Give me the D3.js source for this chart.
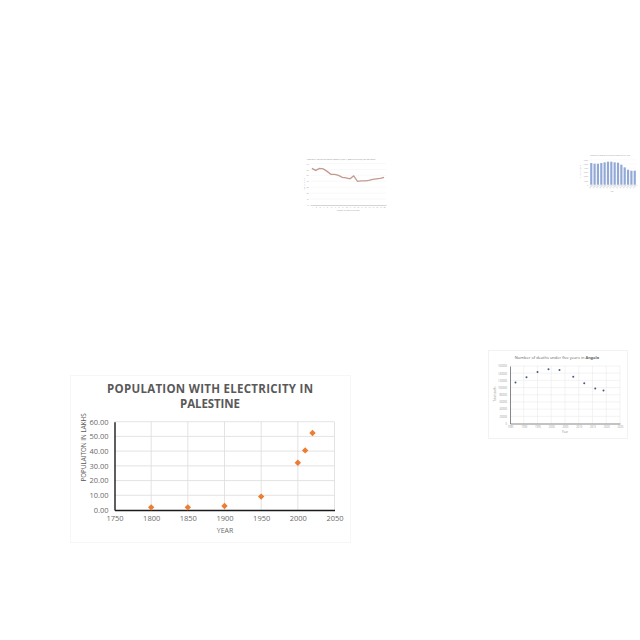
<!DOCTYPE html>
<html>
<head>
<meta charset="utf-8">
<script src="https://cdn.jsdelivr.net/npm/d3@7"></script>
<style>
  html, body { margin: 0; padding: 0; background: #fff; }
  svg { display: block; }
  text { font-family: "Open Sans", "Liberation Sans", sans-serif; }
</style>
</head>
<body>
<div id="chart"></div>
<script>
// main chart: population with electricity in Palestine
const years = [1800, 1850, 1900, 1950, 2000, 2010, 2020];
const population = [1.8, 1.8, 2.7, 9.1, 32.1, 40.5, 52.3];
const yearTicks = [1750, 1800, 1850, 1900, 1950, 2000, 2050];
const popTicks = [0, 10, 20, 30, 40, 50, 60];

// Angola under-five deaths
const angolaYears = [1987, 1991, 1995, 1999, 2003, 2008, 2012, 2016, 2019];
const angolaDeaths = [113800, 128600, 143400, 150800, 148900, 130400, 111900, 97100, 91600];
const angolaYearTicks = [1985, 1990, 1995, 2000, 2005, 2010, 2015, 2020, 2025];
const angolaDeathTicks = [0, 20000, 40000, 60000, 80000, 100000, 120000, 140000, 160000];

// small line chart
const rateIdx = d3.range(1, 21);
const rateValues = [61.7, 58.3, 61.7, 60.8, 56.7, 51.7, 51.7, 50, 46.7, 45.8, 44.2, 49, 40, 40.8, 40.8, 41.7, 43.3, 44.2, 45, 46.7];
const rateTicks = [0, 10, 20, 30, 40, 50, 60, 70];

// small bar chart
const barLabels = d3.range(2005, 2019).map(String);
const barValues = [5200, 5040, 5040, 5200, 5360, 5520, 5520, 5360, 5280, 4800, 4160, 3600, 3360, 3360];
const barTicks = [0, 1000, 2000, 3000, 4000, 5000, 6000];

const svg = d3.select("#chart").append("svg")
  .attr("width", 640)
  .attr("height", 640);

const grey = "#595959";

// ---------- main chart ----------
{
  const g = svg.append("g");
  g.append("rect")
    .attr("x", 70.5).attr("y", 375.5).attr("width", 280).attr("height", 167)
    .attr("fill", "#fff").attr("stroke", "#f6f6f6");

  const x = d3.scaleLinear().domain([1750, 2050]).range([114.5, 334.5]);
  const y = d3.scaleLinear().domain([0, 60]).range([510, 421.7]);

  // grid
  g.append("g").selectAll("line").data(yearTicks.slice(1)).join("line")
    .attr("x1", d => x(d)).attr("x2", d => x(d))
    .attr("y1", y(60)).attr("y2", y(0))
    .attr("stroke", "#dcdcdc").attr("stroke-width", 0.8);
  g.append("g").selectAll("line").data(popTicks.slice(1)).join("line")
    .attr("x1", x(1750)).attr("x2", x(2050))
    .attr("y1", d => y(d)).attr("y2", d => y(d))
    .attr("stroke", "#dcdcdc").attr("stroke-width", 0.8);

  const xAxis = g.append("g").attr("transform", `translate(0,${y(0)})`)
    .call(d3.axisBottom(x).tickValues(yearTicks).tickFormat(d3.format("d")).tickSize(0).tickPadding(6));
  xAxis.select(".domain").attr("stroke", "#1a1a1a").attr("stroke-width", 1.4);
  xAxis.selectAll("text").attr("fill", "#6a6a6a").attr("font-size", 7.5);

  const yAxis = g.append("g").attr("transform", `translate(${x(1750)},0)`)
    .call(d3.axisLeft(y).tickValues(popTicks).tickFormat(d3.format(".2f")).tickSize(0).tickPadding(6));
  yAxis.select(".domain").attr("stroke", "#1a1a1a").attr("stroke-width", 1.4);
  yAxis.selectAll("text").attr("fill", "#6a6a6a").attr("font-size", 7.5);

  g.append("g").selectAll("path").data(years).join("path")
    .attr("transform", (d, i) => `translate(${x(d)},${y(population[i])})`)
    .attr("d", d3.symbol(d3.symbolDiamond2, 26))
    .attr("fill", "#ED7D31");

  g.append("text").attr("x", 210).attr("y", 393)
    .attr("text-anchor", "middle").attr("font-weight", "bold").attr("font-size", 11.5)
    .attr("fill", grey).attr("textLength", 206).attr("lengthAdjust", "spacing")
    .text("POPULATION WITH ELECTRICITY IN");
  g.append("text").attr("x", 210).attr("y", 408)
    .attr("text-anchor", "middle").attr("font-weight", "bold").attr("font-size", 11.5)
    .attr("fill", grey).attr("textLength", 60).attr("lengthAdjust", "spacing")
    .text("PALESTINE");

  g.append("text").attr("transform", "translate(85.5,447.5) rotate(-90)")
    .attr("text-anchor", "middle").attr("font-size", 6.3).attr("fill", grey)
    .text("POPULAITON IN LAKHS");
  g.append("text").attr("x", 225).attr("y", 533)
    .attr("text-anchor", "middle").attr("font-size", 7).attr("fill", "#6a6a6a")
    .text("YEAR");
}

// ---------- Angola chart ----------
{
  const g = svg.append("g");
  g.append("rect")
    .attr("x", 488.5).attr("y", 350.5).attr("width", 139).attr("height", 88)
    .attr("fill", "#fff").attr("stroke", "#f2f2f2");

  const x = d3.scaleLinear().domain([1985, 2025]).range([510, 620]);
  const y = d3.scaleLinear().domain([0, 160000]).range([423.5, 366]);

  g.append("g").selectAll("line").data(angolaYearTicks.slice(1)).join("line")
    .attr("x1", d => x(d)).attr("x2", d => x(d))
    .attr("y1", y(160000)).attr("y2", y(0))
    .attr("stroke", "#e6e6e6").attr("stroke-width", 0.5);
  g.append("g").selectAll("line").data(angolaDeathTicks.slice(1)).join("line")
    .attr("x1", x(1985)).attr("x2", x(2025))
    .attr("y1", d => y(d)).attr("y2", d => y(d))
    .attr("stroke", "#e6e6e6").attr("stroke-width", 0.5);

  const xa = g.append("g").attr("transform", `translate(0,${y(0)})`)
    .call(d3.axisBottom(x).tickValues(angolaYearTicks).tickFormat(d3.format("d")).tickSize(0).tickPadding(3));
  xa.select(".domain").attr("stroke", "#555").attr("stroke-width", 0.7);
  xa.selectAll("text").attr("fill", "#999").attr("font-size", 2.6);

  const ya = g.append("g").attr("transform", `translate(${x(1985)},0)`)
    .call(d3.axisLeft(y).tickValues(angolaDeathTicks).tickFormat(d3.format("d")).tickSize(0).tickPadding(3));
  ya.select(".domain").attr("stroke", "#555").attr("stroke-width", 0.7);
  ya.selectAll("text").attr("fill", "#999").attr("font-size", 2.6);

  g.append("g").selectAll("circle").data(angolaYears).join("circle")
    .attr("cx", d => x(d)).attr("cy", (d, i) => y(angolaDeaths[i]))
    .attr("r", 1).attr("fill", "#4a5a7a");

  const t = g.append("text").attr("x", 557).attr("y", 359)
    .attr("text-anchor", "middle").attr("font-size", 4).attr("fill", "#666");
  t.append("tspan").text("Number of deaths under five years in ");
  t.append("tspan").attr("font-weight", "bold").text("Angola");

  g.append("text").attr("transform", "translate(496,394) rotate(-90)")
    .attr("text-anchor", "middle").attr("font-size", 2.6).attr("fill", "#888")
    .text("Total deaths");
  g.append("text").attr("x", 565).attr("y", 433)
    .attr("text-anchor", "middle").attr("font-size", 2.8).attr("fill", "#888")
    .text("Year");
}

// ---------- small line chart ----------
{
  const g = svg.append("g");
  const x = d3.scaleLinear().domain([0.5, 20.5]).range([310, 386]);
  const y = d3.scaleLinear().domain([0, 70]).range([205, 163.5]);

  g.append("g").selectAll("line").data(rateTicks.slice(1)).join("line")
    .attr("x1", x(0.5)).attr("x2", x(20.5))
    .attr("y1", d => y(d)).attr("y2", d => y(d))
    .attr("stroke", "#f0f0f0").attr("stroke-width", 0.4);

  const xa = g.append("g").attr("transform", `translate(0,${y(0)})`)
    .call(d3.axisBottom(x).tickValues(rateIdx).tickSize(0).tickPadding(1.5));
  xa.select(".domain").attr("stroke", "#aaa").attr("stroke-width", 0.5);
  xa.selectAll("text").attr("fill", "#999").attr("font-size", 1.8);

  const ya = g.append("g").attr("transform", `translate(${x(0.5)},0)`)
    .call(d3.axisLeft(y).tickValues(rateTicks).tickSize(0).tickPadding(1.5));
  ya.select(".domain").attr("stroke", "none");
  ya.selectAll("text").attr("fill", "#999").attr("font-size", 1.8);

  g.append("path").datum(rateIdx)
    .attr("d", d3.line().x(d => x(d)).y((d, i) => y(rateValues[i])))
    .attr("fill", "none").attr("stroke", "#c39a90").attr("stroke-width", 1.3);

  g.append("text").attr("x", 341).attr("y", 159.5)
    .attr("text-anchor", "middle").attr("font-size", 2.2).attr("fill", "#888")
    .text("Mortality rate of children under 5 (per 1,000 live births) for 20 years");
  g.append("text").attr("transform", "translate(305,184) rotate(-90)")
    .attr("text-anchor", "middle").attr("font-size", 1.8).attr("fill", "#999")
    .text("Mortality rate");
  g.append("text").attr("x", 348).attr("y", 211)
    .attr("text-anchor", "middle").attr("font-size", 1.8).attr("fill", "#999")
    .text("Number of years in the last");
}

// ---------- small bar chart ----------
{
  const g = svg.append("g");
  const x = d3.scaleBand().domain(barLabels).range([589, 637]).padding(0.35);
  const y = d3.scaleLinear().domain([0, 6000]).range([184.7, 159.7]);

  g.append("g").selectAll("line").data(barTicks.slice(1)).join("line")
    .attr("x1", 589).attr("x2", 637)
    .attr("y1", d => y(d)).attr("y2", d => y(d))
    .attr("stroke", "#f0f0f0").attr("stroke-width", 0.3);

  g.append("g").selectAll("rect").data(barLabels).join("rect")
    .attr("x", d => x(d)).attr("width", x.bandwidth())
    .attr("y", (d, i) => y(barValues[i])).attr("height", (d, i) => y(0) - y(barValues[i]))
    .attr("fill", "#92a9d8");

  const ya = g.append("g").attr("transform", "translate(589,0)")
    .call(d3.axisLeft(y).tickValues(barTicks).tickSize(0).tickPadding(1.2));
  ya.select(".domain").attr("stroke", "none");
  ya.selectAll("text").attr("fill", "#999").attr("font-size", 1.6);

  const xa = g.append("g").attr("transform", `translate(0,${y(0)})`)
    .call(d3.axisBottom(x).tickSize(0).tickPadding(1));
  xa.select(".domain").attr("stroke", "#bbb").attr("stroke-width", 0.4);
  xa.selectAll("text").attr("fill", "#999").attr("font-size", 1.6)
    .attr("text-anchor", "end").attr("transform", "rotate(-45)").attr("dy", "0.5em");

  g.append("text").attr("x", 610).attr("y", 156)
    .attr("text-anchor", "middle").attr("font-size", 1.8).attr("fill", "#999")
    .text("Number of deaths of children under five by year");
  g.append("text").attr("transform", "translate(581,172) rotate(-90)")
    .attr("text-anchor", "middle").attr("font-size", 1.6).attr("fill", "#999")
    .text("Number of deaths");
  g.append("text").attr("x", 612).attr("y", 192)
    .attr("text-anchor", "middle").attr("font-size", 1.6).attr("fill", "#999")
    .text("Year");
}
</script>
</body>
</html>
